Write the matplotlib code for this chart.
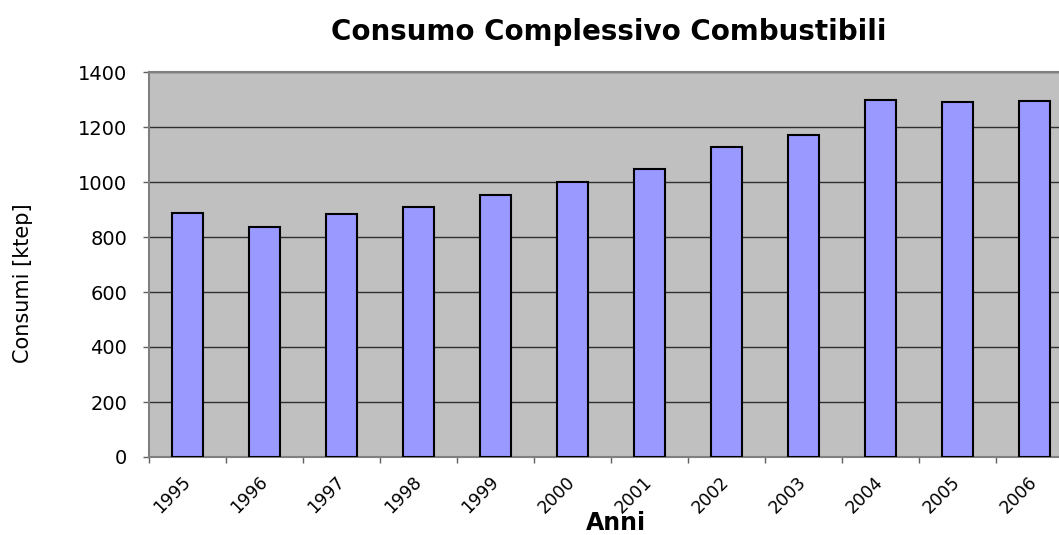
import matplotlib
matplotlib.use("Agg")
import matplotlib.pyplot as plt
import numpy as np

years = ["1995", "1996", "1997", "1998", "1999", "2000",
         "2001", "2002", "2003", "2004", "2005", "2006"]
consumi = [888, 835, 884, 909, 953, 999, 1046, 1128, 1171, 1300, 1292, 1296]
yticks = [0, 200, 400, 600, 800, 1000, 1200, 1400]

plt.rcParams['font.family'] = ['DejaVu Sans']

W, H = 1059, 535
fig = plt.figure(figsize=(W / 100, H / 100), dpi=100)
left, right, top, bottom = 149, 1073, 72, 457
ax = fig.add_axes([left / W, 1 - bottom / H, (right - left) / W, (bottom - top) / H])
ax.set_facecolor("#c0c0c0")

x = np.arange(len(years))
ax.bar(x, consumi, width=0.4, color="#9999ff", edgecolor="black", linewidth=1.5, zorder=3)

ax.set_xlim(-0.5, len(years) - 0.5)
ax.set_ylim(0, 1400)
ax.set_yticks(yticks)
ax.set_yticklabels([str(v) for v in yticks], fontsize=14)
ax.yaxis.grid(True, color="#303030", linewidth=1.0, zorder=1)

ax.set_xticks(x)
ax.set_xticklabels(years, rotation=45, fontsize=12.5, ha="right", va="center",
                   rotation_mode="anchor")
ax.tick_params(axis="x", which="major", length=0, pad=16)
ax.set_xticks(np.arange(-0.5, len(years), 1), minor=True)
ax.tick_params(axis="x", which="minor", length=4.3, color="#606060", width=1)
ax.tick_params(axis="y", length=4.3, color="#606060", width=1, pad=11.5)

for s in ["left", "bottom", "top", "right"]:
    ax.spines[s].set_color("#808080")
    ax.spines[s].set_linewidth(1.5)

fig.text(609 / W, 1 - 32 / H, "Consumo Complessivo Combustibili", ha="center", va="center",
         fontsize=20, fontweight="bold")
fig.text(23 / W, 1 - 283 / H, "Consumi [ktep]", ha="center", va="center",
         rotation=90, fontsize=15)
fig.text(616 / W, 1 - 523 / H, "Anni", ha="center", va="center",
         fontsize=17, fontweight="bold")

fig.savefig("out.png", dpi=100)
